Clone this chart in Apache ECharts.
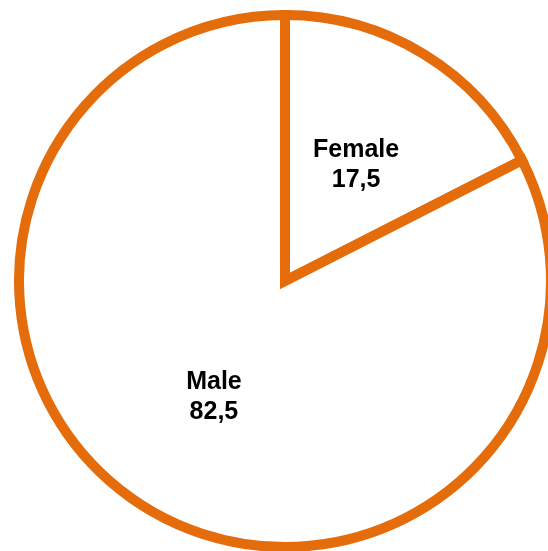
<!DOCTYPE html>
<html>
<head>
<meta charset="utf-8">
<script src="https://cdn.jsdelivr.net/npm/echarts@6/dist/echarts.min.js"></script>
<style>
  html, body { margin: 0; padding: 0; background: #fff; }
  #main { width: 548px; height: 551px; }
</style>
</head>
<body>
<div id="main"></div>
<script>
// slice names and shares (percent)
var names = ['Female', 'Male'];
var values = [17.5, 82.5];

var chart = echarts.init(document.getElementById('main'));

var data = names.map(function (n, i) {
  return { name: n, value: values[i] };
});

chart.setOption({
  animation: false,
  series: [{
    type: 'pie',
    center: [285, 281],
    radius: [0, 266],
    startAngle: 90,
    clockwise: true,
    silent: true,
    data: data,
    itemStyle: {
      color: '#ffffff',
      borderColor: '#E46C0A',
      borderWidth: 10,
      borderJoin: 'miter'
    },
    label: {
      position: 'inside',
      formatter: function (p) {
        return p.name + '\n' + String(p.value).replace('.', ',');
      },
      color: '#000',
      fontFamily: 'Arial, "Liberation Sans", sans-serif',
      fontWeight: 'bold',
      fontSize: 25,
      lineHeight: 30,
      align: 'center'
    },
    labelLine: { show: false }
  }]
});
</script>
</body>
</html>
